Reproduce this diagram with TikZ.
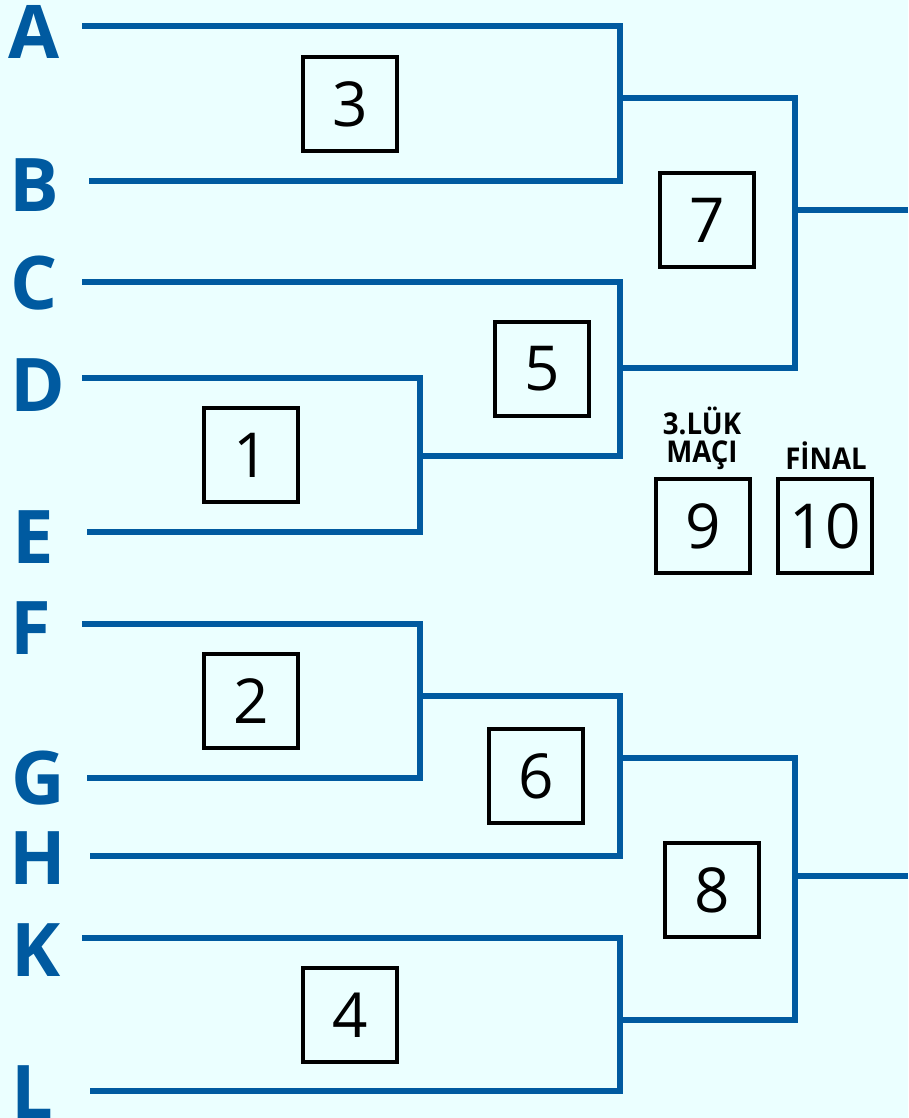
\documentclass[tikz,border=0pt]{standalone}
\usepackage{fontspec}
\setmainfont{Open Sans}
\definecolor{bblue}{RGB}{0,90,160}
\definecolor{bg}{RGB}{235,255,255}
\begin{document}
\begin{tikzpicture}[x=1pt,y=-1pt,
  line/.style={draw=bblue,line width=6pt,line join=miter,line cap=butt},
  box/.style={draw=black,line width=3.5pt,minimum size=94pt,inner sep=0pt,font=\fontsize{62}{62}\selectfont},
  team/.style={text=bblue,font=\bfseries\fontsize{74}{74}\selectfont,inner sep=0pt},
  lbl/.style={font=\bfseries\fontsize{30}{28}\selectfont,inner sep=0pt,align=center}]
\fill[bg] (0,0) rectangle (908,1118);
\useasboundingbox (0,0) rectangle (908,1118);
% team letters
\node[team] (A) at (34,32) {A};
\node[team] (B) at (34,185) {B};
\node[team] (C) at (34,283) {C};
\node[team] (D) at (38,385) {D};
\node[team] (E) at (33,537) {E};
\node[team] (F) at (31,628) {F};
\node[team] (G) at (38,778) {G};
\node[team] (H) at (38,858) {H};
\node[team] (K) at (36,950) {K};
\node[team] (L) at (32,1092) {L};
% line ends
\coordinate (a0) at (82,26);   \coordinate (a1) at (620,26);
\coordinate (b0) at (89,181);  \coordinate (b1) at (620,181);
\coordinate (c0) at (82,282);  \coordinate (c1) at (620,282);
\coordinate (d0) at (82,378);  \coordinate (d1) at (420,378);
\coordinate (e0) at (87,532);  \coordinate (e1) at (420,532);
\coordinate (f0) at (82,624);  \coordinate (f1) at (420,624);
\coordinate (g0) at (87,778);  \coordinate (g1) at (420,778);
\coordinate (h0) at (90,856);  \coordinate (h1) at (620,856);
\coordinate (k0) at (82,938);  \coordinate (k1) at (620,938);
\coordinate (l0) at (90,1091); \coordinate (l1) at (620,1091);
% junctions
\coordinate (ab) at (620,98);   \coordinate (ab1) at (795,98);
\coordinate (de) at (420,456);  \coordinate (de1) at (620,456);
\coordinate (cde) at (620,368); \coordinate (cde1) at (795,368);
\coordinate (top) at (795,210); \coordinate (top1) at (908,210);
\coordinate (fg) at (420,696);  \coordinate (fg1) at (620,696);
\coordinate (fgh) at (620,758); \coordinate (fgh1) at (795,758);
\coordinate (kl) at (620,1020); \coordinate (kl1) at (795,1020);
\coordinate (bot) at (795,876); \coordinate (bot1) at (908,876);
% brackets
\draw[line] (a0) -- (a1) -- (b1) -- (b0);
\draw[line] (d0) -- (d1) -- (e1) -- (e0);
\draw[line] (c0) -- (c1) -- (de1) -- (de);
\draw[line] (ab) -- (ab1) -- (cde1) -- (cde);
\draw[line] (top) -- (top1);
\draw[line] (f0) -- (f1) -- (g1) -- (g0);
\draw[line] (fg) -- (fg1) -- (h1) -- (h0);
\draw[line] (k0) -- (k1) -- (l1) -- (l0);
\draw[line] (fgh) -- (fgh1) -- (kl1) -- (kl);
\draw[line] (bot) -- (bot1);
% match boxes
\node[box] (m3) at (350,104) {3};
\node[box] (m7) at (707,220) {7};
\node[box] (m5) at (542,369) {5};
\node[box] (m1) at (251,455) {1};
\node[box] (m9) at (703,526) {9};
\node[box] (m10) at (825,526) {10};
\node[box] (m2) at (251,701) {2};
\node[box] (m6) at (536,776) {6};
\node[box] (m8) at (712,890) {8};
\node[box] (m4) at (350,1015) {4};
% labels
\node[lbl,anchor=south] (l9) at (702,470) {\scalebox{0.92}[1]{3.LÜK}\\\scalebox{0.92}[1]{MAÇI}};
\node[lbl,anchor=south] (l10) at (826,470) {\scalebox{0.92}[1]{FİNAL}};
\end{tikzpicture}
\end{document}
